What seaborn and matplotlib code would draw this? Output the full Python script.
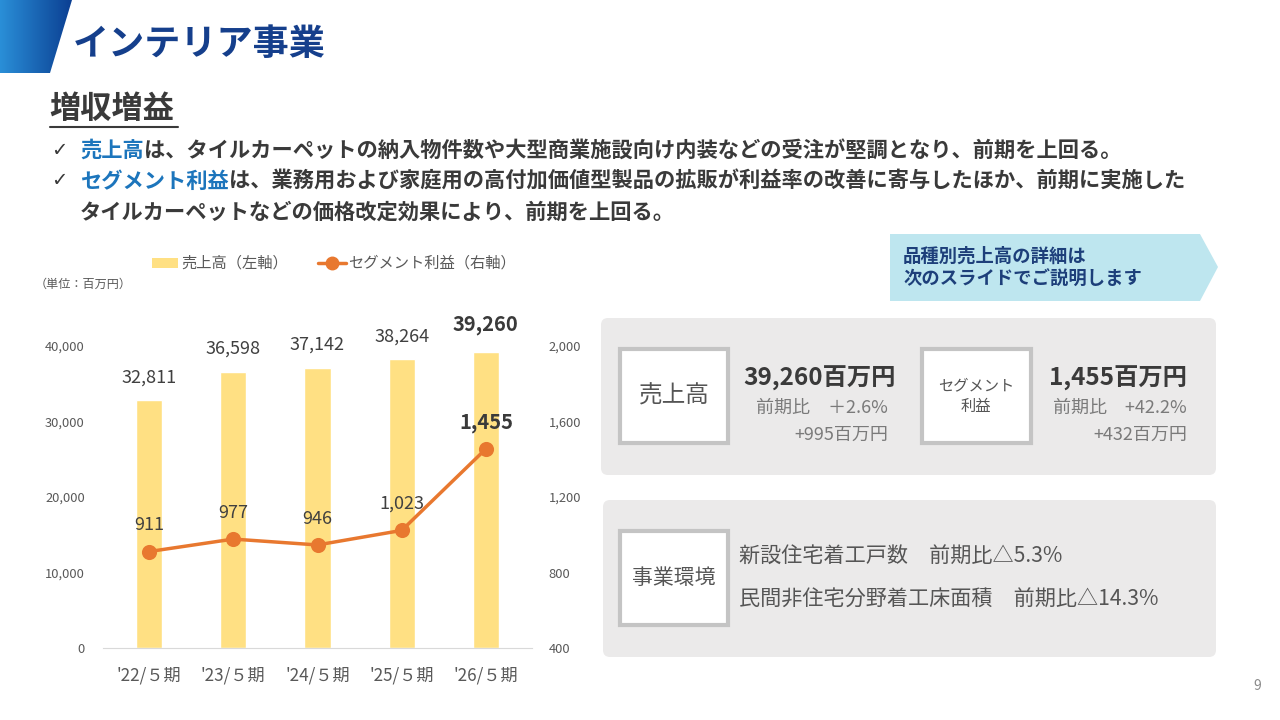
import numpy as np
import seaborn as sns
import matplotlib.pyplot as plt
from matplotlib.patches import Polygon, Rectangle, FancyBboxPatch
from matplotlib.lines import Line2D
from matplotlib.ticker import FuncFormatter
from matplotlib.colors import LinearSegmentedColormap

sns.set_style('white')
plt.rcParams['font.family'] = ['Noto Sans CJK JP', 'DejaVu Sans']

# data
periods = ["'22/５期", "'23/５期", "'24/５期", "'25/５期", "'26/５期"]
sales = [32811, 36598, 37142, 38264, 39260]
profit = [911, 977, 946, 1023, 1455]
sales_ticks = [0, 10000, 20000, 30000, 40000]
profit_ticks = [400, 800, 1200, 1600, 2000]

bar_color = '#FFE083'
line_color = '#E8782F'
tick_grey = '#595959'
navy = '#153F8C'
blue_word = '#1C75BC'
dark = '#3A3A3A'

fig = plt.figure(figsize=(12.8, 7.2), dpi=100)

# background layer in pixel coordinates
bg = fig.add_axes([0, 0, 1, 1], zorder=0)
bg.axis('off')

# title banner with gradient
grad = np.linspace(0, 1, 256).reshape(1, -1)
banner = Polygon([(0, 0), (72, 0), (50, 73), (0, 73)], closed=True, facecolor='none', edgecolor='none')
bg.add_patch(banner)
cmap = LinearSegmentedColormap.from_list('b', ['#2A8FD8', '#0B3F92'])
im = bg.imshow(grad, cmap=cmap, extent=(0, 72, 73, 0), aspect='auto', zorder=1)
im.set_clip_path(banner)
bg.set_xlim(0, 1280)
bg.set_ylim(720, 0)

bg.text(73, 45, 'インテリア事業', fontsize=26, fontweight='bold', color=navy, va='center', ha='left')

# subtitle
bg.text(49, 109, '増収増益', fontsize=22.5, fontweight='bold', color=dark, va='center', ha='left')
bg.plot([50, 178], [127, 127], color=dark, lw=1.5)


def text_run(x, y, parts, size=15.3, weight='bold'):
    t = bg.text(x, y, parts[0][0], color=parts[0][1], fontsize=size, fontweight=weight, va='center', ha='left')
    for s, c in parts[1:]:
        t = bg.annotate(s, xy=(1, 0.5), xycoords=t, color=c, fontsize=size, fontweight=weight,
                        va='center', ha='left')
    return t


for yy in (150, 181):
    bg.text(51, yy, '✓', fontsize=14, color=dark, va='center', ha='left', family=['DejaVu Sans'])

text_run(80, 150, [('売上高', blue_word),
                   ('は、タイルカーペットの納入物件数や大型商業施設向け内装などの受注が堅調となり、前期を上回る。', dark)])
text_run(80, 181, [('セグメント利益', blue_word),
                   ('は、業務用および家庭用の高付加価値型製品の拡販が利益率の改善に寄与したほか、前期に実施した', dark)])
text_run(80, 212, [('タイルカーペットなどの価格改定効果により、前期を上回る。', dark)])

# legend and unit
bg.add_patch(Rectangle((152, 258), 26, 10, facecolor=bar_color, edgecolor='none'))
bg.text(181, 263, '売上高（左軸）', fontsize=11, color=tick_grey, va='center', ha='left')
bg.add_line(Line2D([318, 346], [263, 263], color=line_color, lw=2.5))
bg.plot([332], [263], 'o', color=line_color, markersize=9)
bg.text(348, 263, 'セグメント利益（右軸）', fontsize=11, color=tick_grey, va='center', ha='left')
bg.text(35, 284, '（単位：百万円）', fontsize=8.7, color=tick_grey, va='center', ha='left')

# callout arrow
bg.add_patch(Polygon([(890, 234), (1200, 234), (1218, 267), (1200, 301), (890, 301)],
                     closed=True, facecolor='#BEE6EF', edgecolor='none'))
bg.text(903, 256, '品種別売上高の詳細は', fontsize=13.2, fontweight='bold', color='#1D3F7A', va='center')
bg.text(903, 279, '次のスライドでご説明します', fontsize=13.2, fontweight='bold', color='#1D3F7A', va='center')

# grey panels
for (x0, y0, x1, y1) in [(601, 318, 1216, 475), (603, 500, 1216, 657)]:
    bg.add_patch(FancyBboxPatch((x0, y0), x1 - x0, y1 - y0, boxstyle='round,pad=0,rounding_size=7',
                                facecolor='#EBEAEA', edgecolor='none'))
for (x0, y0, x1, y1) in [(620, 349, 728, 443), (922, 349, 1031, 443), (620, 531, 728, 625)]:
    bg.add_patch(Rectangle((x0, y0), x1 - x0, y1 - y0, facecolor='white', edgecolor='#C4C4C4', lw=3))

mid_grey = '#555555'
soft = '#7A7A7A'
bg.text(674, 396, '売上高', fontsize=17, color=mid_grey, ha='center', va='center')
bg.text(976, 396, 'セグメント\n利益', fontsize=11, color=mid_grey, ha='center', va='center', linespacing=1.3)
bg.text(674, 578, '事業環境', fontsize=15, color=mid_grey, ha='center', va='center')

bg.text(820, 378, '39,260百万円', fontsize=17.5, fontweight='bold', color=dark, ha='center', va='center')
bg.text(888, 408, '前期比　＋2.6%', fontsize=13, color=soft, ha='right', va='center')
bg.text(888, 435, '+995百万円', fontsize=13, color=soft, ha='right', va='center')
bg.text(1118, 378, '1,455百万円', fontsize=17.5, fontweight='bold', color=dark, ha='center', va='center')
bg.text(1187, 408, '前期比　+42.2%', fontsize=13, color=soft, ha='right', va='center')
bg.text(1187, 435, '+432百万円', fontsize=13, color=soft, ha='right', va='center')

bg.text(739, 557, '新設住宅着工戸数　前期比△5.3%', fontsize=15.2, color=mid_grey, va='center')
bg.text(739, 600, '民間非住宅分野着工床面積　前期比△14.3%', fontsize=15.2, color=mid_grey, va='center')

bg.text(1257, 686, '9', fontsize=10, color='#8A8A8A', ha='center', va='center')

# chart
ax = fig.add_axes([107 / 1280, 1 - 648 / 720, 421 / 1280, 302 / 720], zorder=2)
ax.patch.set_alpha(0)
sns.barplot(x=periods, y=sales, ax=ax, color=bar_color, width=0.31, saturation=1)
ax.set_ylim(sales_ticks[0], sales_ticks[-1])
ax.set_xlim(-0.5, len(periods) - 0.5)
ax.set_yticks(sales_ticks)
ax.yaxis.set_major_formatter(FuncFormatter(lambda v, p: f'{int(v):,}'))
for s in ax.spines.values():
    s.set_visible(False)
ax.spines['bottom'].set_visible(True)
ax.spines['bottom'].set_color('#D9D9D9')
ax.spines['bottom'].set_bounds(-0.55, 4.55)
ax.tick_params(axis='y', length=0, pad=16, labelsize=9.3, labelcolor=tick_grey)
ax.tick_params(axis='x', length=0, pad=13, labelsize=12.3, labelcolor=tick_grey)
ax.set_xlabel('')
ax.set_ylabel('')

for i, v in enumerate(sales):
    last = i == len(sales) - 1
    ax.annotate(f'{v:,}', xy=(i, v), xytext=(0, 10 if not last else 12), textcoords='offset points',
                ha='center', va='bottom', fontsize=14.5 if last else 13,
                fontweight='bold' if last else 'normal', color=dark if last else '#404040',
                annotation_clip=False)

ax2 = ax.twinx()
ax2.set_zorder(3)
sns.pointplot(x=periods, y=profit, ax=ax2, color=line_color, markers='o', linewidth=2.5,
              markersize=9)
ax2.set_ylim(profit_ticks[0], profit_ticks[-1])
ax2.set_yticks(profit_ticks)
ax2.yaxis.set_major_formatter(FuncFormatter(lambda v, p: f'{int(v):,}'))
ax2.set_xlim(-0.5, len(periods) - 0.5)
for s in ax2.spines.values():
    s.set_visible(False)
ax2.tick_params(axis='y', length=0, pad=15, labelsize=9.3, labelcolor=tick_grey)
ax2.set_ylabel('')
ax2.set_xlabel('')

for i, v in enumerate(profit):
    last = i == len(profit) - 1
    ax2.annotate(f'{v:,}', xy=(i, v), xytext=(0, 19), textcoords='offset points',
                 ha='center', va='center', fontsize=14.5 if last else 13,
                 fontweight='bold' if last else 'normal', color=dark if last else '#404040',
                 annotation_clip=False)

fig.savefig('out.png', dpi=100)
